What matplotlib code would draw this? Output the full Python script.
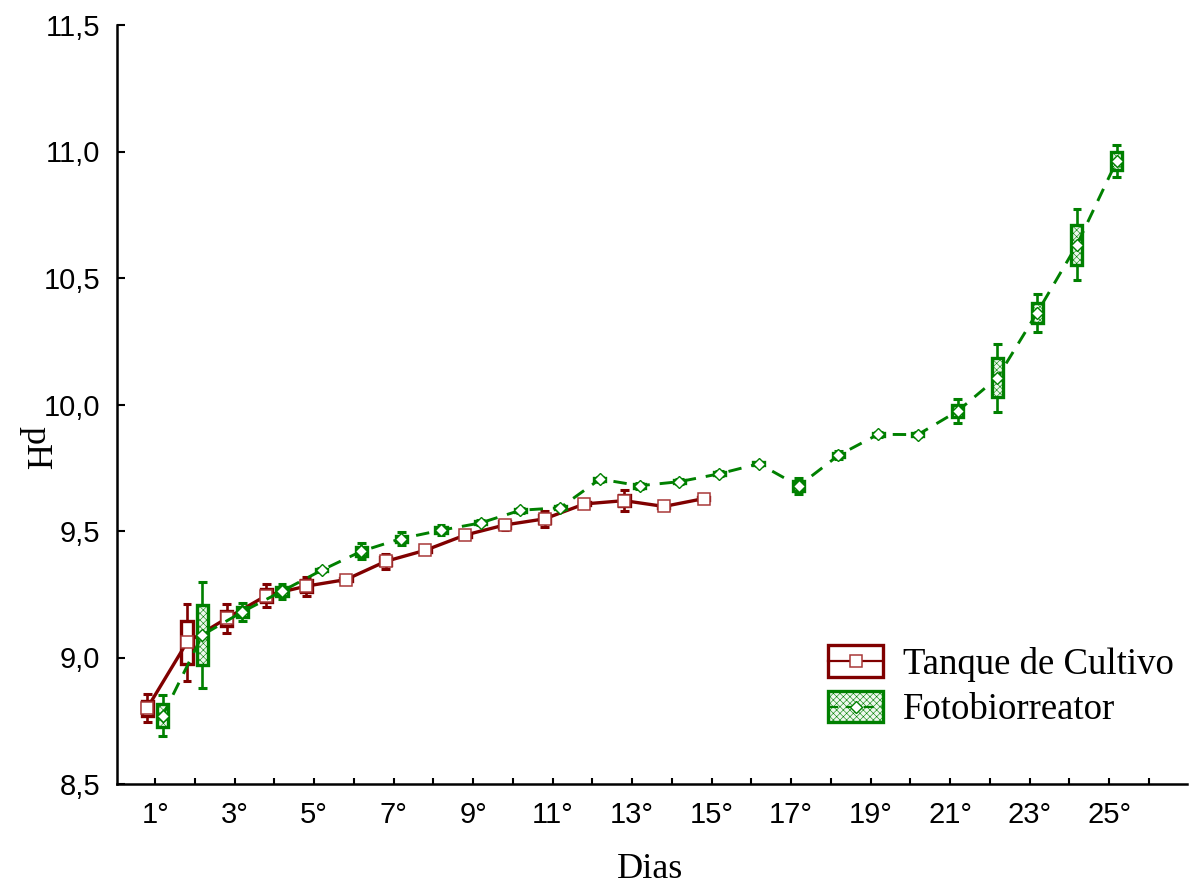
import numpy as np
import matplotlib
matplotlib.use("Agg")
import matplotlib.pyplot as plt
from matplotlib.patches import Rectangle, Patch
from matplotlib.lines import Line2D
from matplotlib.legend_handler import HandlerBase

# ---- data: daily pH, mean with standard error (box) and standard deviation (whiskers)
series_names = ["Tanque de Cultivo", "Fotobiorreator"]

tanque_days = list(range(1, 16))
tanque_mean = [8.80, 9.06, 9.155, 9.245, 9.282, 9.308, 9.38, 9.424, 9.484,
               9.524, 9.548, 9.607, 9.620, 9.597, 9.628]
tanque_se = [0.030, 0.084, 0.030, 0.026, 0.025, 0.006, 0.016, 0.008, 0.006,
             0.014, 0.016, 0.006, 0.022, 0.005, 0.007]
tanque_sd = [0.055, 0.153, 0.058, 0.046, 0.038, 0.010, 0.031, 0.012, 0.010,
             0.020, 0.032, 0.010, 0.041, 0.008, 0.010]

foto_days = list(range(1, 26))
foto_mean = [8.77, 9.089, 9.18, 9.262, 9.345, 9.42, 9.47, 9.503, 9.532,
             9.582, 9.592, 9.705, 9.679, 9.695, 9.726, 9.766, 9.678, 9.799,
             9.882, 9.881, 9.974, 10.106, 10.363, 10.631, 10.962]
foto_se = [0.045, 0.118, 0.020, 0.018, 0.005, 0.018, 0.012, 0.012, 0.006,
           0.006, 0.006, 0.006, 0.008, 0.006, 0.006, 0.005, 0.018, 0.008,
           0.006, 0.006, 0.025, 0.078, 0.040, 0.078, 0.035]
foto_sd = [0.080, 0.210, 0.035, 0.030, 0.008, 0.032, 0.026, 0.020, 0.010,
           0.010, 0.010, 0.010, 0.012, 0.010, 0.010, 0.008, 0.032, 0.016,
           0.010, 0.010, 0.047, 0.135, 0.075, 0.140, 0.064]

x_tick_days = list(range(1, 27))
x_tick_labels = ["1°", "", "3°", "", "5°", "", "7°", "", "9°", "", "11°", "",
                 "13°", "", "15°", "", "17°", "", "19°", "", "21°", "", "23°",
                 "", "25°", ""]
y_ticks = [8.5, 9.0, 9.5, 10.0, 10.5, 11.0, 11.5]
y_tick_labels = ["8,5", "9,0", "9,5", "10,0", "10,5", "11,0", "11,5"]

# ---- style
RED = "#800000"
GREEN = "#008000"
FOTO_FACE = "#eef7ee"
FOTO_HATCH = "xxxxx"
SERIF = ["Liberation Serif", "DejaVu Serif"]
SANS = ["Liberation Sans", "DejaVu Sans"]
plt.rcParams["hatch.linewidth"] = 0.4

W, H = 1194, 884
fig = plt.figure(figsize=(W / 100, H / 100), dpi=100)
ax = fig.add_axes([117 / W, 1 - 784 / H, (1187 - 117) / W, (784 - 25) / H])

BOX_W = 0.28
CAP_W = 0.22


def draw_series(days, mean, se, sd, offset, color, face, hatch, line_kw, marker_kw, z):
    x = np.asarray(days, float) + offset
    m = np.asarray(mean, float)
    s = np.asarray(se, float)
    d = np.asarray(sd, float)
    ax.vlines(x, m - d, m + d, color=color, lw=1.9, zorder=z)
    ax.hlines(m - d, x - CAP_W / 2, x + CAP_W / 2, color=color, lw=2.2, zorder=z)
    ax.hlines(m + d, x - CAP_W / 2, x + CAP_W / 2, color=color, lw=2.2, zorder=z)
    for xi, mi, si in zip(x, m, s):
        ax.add_patch(Rectangle((xi - BOX_W / 2, mi - si), BOX_W, 2 * si,
                               facecolor=face, edgecolor=color, hatch=hatch,
                               lw=2.4, zorder=z + 1))
    ax.plot(x, m, zorder=z + 2, **line_kw)
    ax.plot(x, m, ls="none", zorder=z + 3, **marker_kw)


tanque_line = dict(color=RED, lw=2.4, ls="-")
tanque_marker = dict(marker="s", ms=8.6, mfc="white", mec="#a83838", mew=1.1)
foto_line = dict(color=GREEN, lw=2.1, ls=(0, (4.6, 3.4)))
foto_marker = dict(marker="D", ms=6.0, mfc="white", mec=GREEN, mew=1.0)

draw_series(tanque_days, tanque_mean, tanque_se, tanque_sd, -0.2, RED,
            "white", None, tanque_line, tanque_marker, 2)
draw_series(foto_days, foto_mean, foto_se, foto_sd, 0.19, GREEN,
            FOTO_FACE, FOTO_HATCH, foto_line, foto_marker, 6)

# ---- axes
ax.set_xlim(0.04, 26.96)
ax.set_ylim(8.5, 11.5)
ax.set_xticks(x_tick_days)
ax.set_xticklabels(x_tick_labels, fontfamily=SANS, fontsize=21)
ax.set_yticks(y_ticks)
ax.set_yticklabels(y_tick_labels, fontfamily=SANS, fontsize=21)
ax.tick_params(axis="x", direction="in", length=4.5, width=1.5, pad=12)
ax.tick_params(axis="y", direction="in", length=6, width=1.5, pad=12)
for side in ("top", "right"):
    ax.spines[side].set_visible(False)
for side in ("left", "bottom"):
    ax.spines[side].set_linewidth(1.8)

fig.text(650 / W, 1 - 869 / H, "Dias", ha="center", va="center",
         fontfamily=SERIF, fontsize=26)
fig.text(35 / W, 1 - 448 / H, "pH", ha="center", va="center", rotation=270,
         fontfamily=SERIF, fontsize=26)


# ---- legend with box-style keys
class BoxKey(HandlerBase):
    def __init__(self, color, face, hatch, line_kw, marker_kw):
        super().__init__()
        self.color, self.face, self.hatch = color, face, hatch
        self.line_kw, self.marker_kw = line_kw, marker_kw

    def create_artists(self, legend, orig_handle, xdescent, ydescent,
                       width, height, fontsize, trans):
        x0, y0 = -xdescent, -ydescent
        ym = y0 + height / 2
        rect = Rectangle((x0, y0), width, height, facecolor=self.face,
                         edgecolor=self.color, hatch=self.hatch, lw=2.4,
                         transform=trans)
        lkw = dict(self.line_kw)
        lkw["lw"] = 1.6
        line = Line2D([x0, x0 + width], [ym, ym], transform=trans, **lkw)
        mk = Line2D([x0 + width / 2], [ym], ls="none", transform=trans,
                    **self.marker_kw)
        return [rect, line, mk]


h_tanque = Patch(label=series_names[0])
h_foto = Patch(label=series_names[1])
ax.legend(handles=[h_tanque, h_foto], labels=series_names,
          handler_map={
              h_tanque: BoxKey(RED, "white", None, tanque_line, tanque_marker),
              h_foto: BoxKey(GREEN, FOTO_FACE, FOTO_HATCH, foto_line, foto_marker),
          },
          loc="upper left", bbox_to_anchor=(828 / W, 1 - 645 / H),
          bbox_transform=fig.transFigure, frameon=False, borderpad=0,
          borderaxespad=0, handlelength=1.5, handleheight=0.95,
          handletextpad=0.55, labelspacing=0.25,
          prop={"family": SERIF, "size": 26.5})

fig.savefig("out.png", dpi=100)
